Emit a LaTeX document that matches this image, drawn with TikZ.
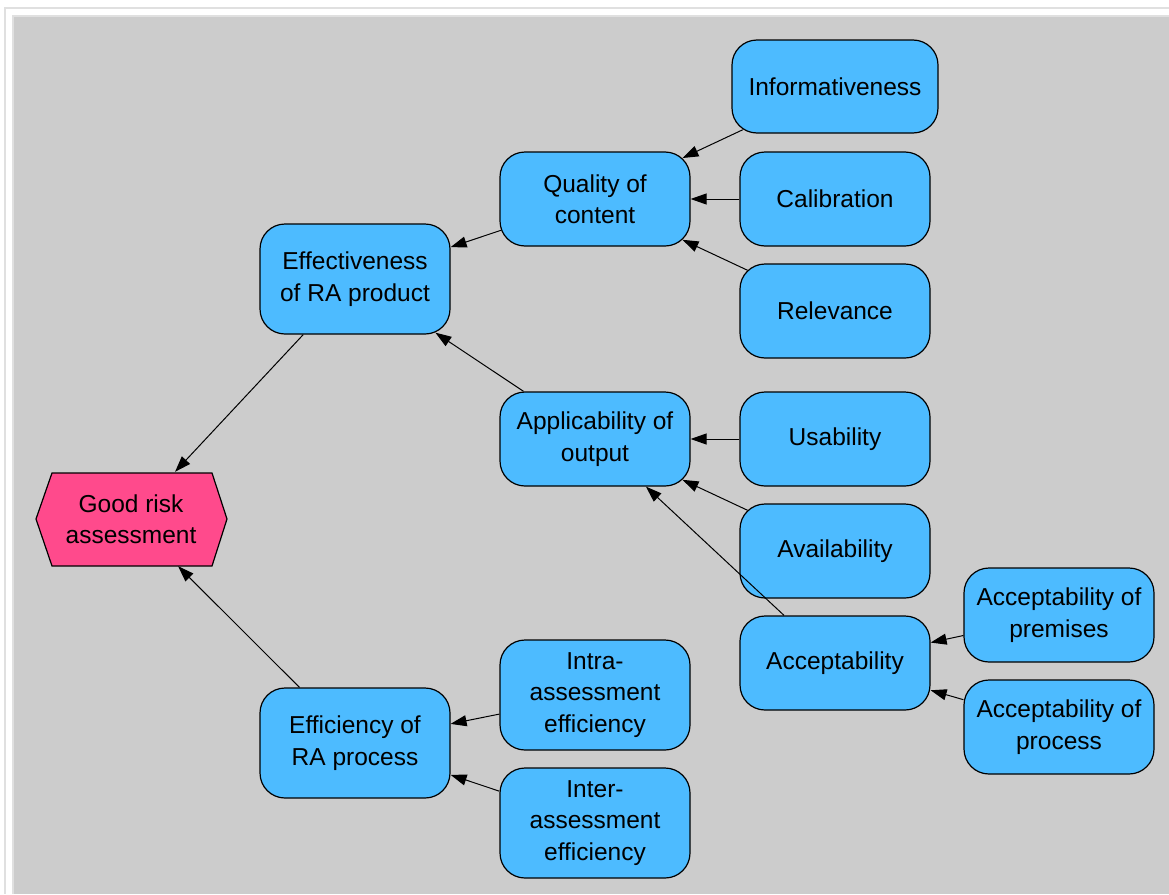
\documentclass[tikz,border=0pt]{standalone}
\usepackage{fontspec}
\setmainfont{Liberation Sans}
\usetikzlibrary{arrows.meta}
\definecolor{nodeblue}{RGB}{77,187,255}
\definecolor{goalpink}{RGB}{255,74,140}
\definecolor{canvas}{RGB}{204,204,204}
\definecolor{frameline}{RGB}{224,224,224}
\tikzset{
  box/.style={draw=black, line width=1.2pt, fill=nodeblue, rounded corners=25pt,
    minimum width=190pt, minimum height=94pt, align=center, inner sep=2pt,
    font=\fontsize{24.5}{31.5}\selectfont},
  tallbox/.style={box, minimum height=110pt},
  goalbox/.style={minimum width=190pt, minimum height=94pt, align=center,
    inner sep=0pt, font=\fontsize{24.5}{31.5}\selectfont},
  arr/.style={draw=black, line width=1pt, -{Triangle[length=16pt,width=11pt]}},
}
\begin{document}
\begin{tikzpicture}[x=1pt,y=-1pt]
\useasboundingbox (0,0) rectangle (1169,894);
\fill[white] (0,0) rectangle (1169,894);
\draw[frameline, line width=1.5pt] (5,894) -- (5,8) -- (1169,8);
\fill[canvas] (14,17) rectangle (1169,894);
\draw[frameline, line width=2pt] (13,894) -- (13,16) -- (1169,16);

% goal hexagon
\filldraw[fill=goalpink, draw=black, line width=1.2pt]
  (36,519) -- (52,473) -- (212,473) -- (227,519) -- (212,566) -- (52,566) -- cycle;
\node[goalbox] (good) at (131,519) {Good risk\\assessment};

\node[tallbox] (eff) at (355,279) {Effectiveness\\of RA product};
\node[tallbox] (effi) at (355,743) {Efficiency of\\RA process};
\node[box] (qual) at (595,199) {Quality of\\content};
\node[box] (appl) at (595,439) {Applicability of\\output};
\node[box, minimum width=206pt, minimum height=93pt] (info) at (835,86.5) {Informativeness};
\node[box] (cal) at (835,199) {Calibration};
\node[box] (rel) at (835,311) {Relevance};
\node[box] (usa) at (835,439) {Usability};
\node[box] (ava) at (835,551) {Availability};
\node[box] (acc) at (835,663) {Acceptability};
\node[box] (prem) at (1059,615) {Acceptability of\\premises};
\node[box] (proc) at (1059,727) {Acceptability of\\process};
\node[tallbox] (intra) at (595,695) {Intra-\\assessment\\efficiency};
\node[tallbox] (inter) at (595,823) {Inter-\\assessment\\efficiency};

% connectors (child -> parent)
\draw[arr] (eff) -- (good);
\draw[arr] (effi) -- (good);
\draw[arr, shorten <=-2pt] (qual) -- (eff);
\draw[arr, shorten >=-3.5pt] (appl) -- (eff);
\draw[arr, shorten <=-9pt, shorten >=-9pt] (info) -- (qual);
\draw[arr] (cal) -- (qual);
\draw[arr, shorten <=-9pt, shorten >=-9pt] (rel) -- (qual);
\draw[arr] (usa) -- (appl);
\draw[arr, shorten <=-9pt, shorten >=-9pt] (ava) -- (appl);
\draw[arr] (acc) -- (appl);
\draw[arr] (prem) -- (acc);
\draw[arr] (proc) -- (acc);
\draw[arr] (intra) -- (effi);
\draw[arr] (inter) -- (effi);
\end{tikzpicture}
\end{document}
